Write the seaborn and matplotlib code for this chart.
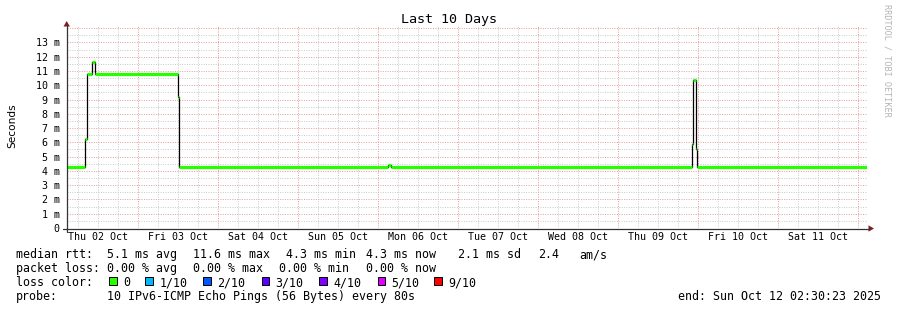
import matplotlib
matplotlib.use("Agg")
import matplotlib.pyplot as plt
import matplotlib.dates as mdates
from matplotlib.lines import Line2D
from matplotlib.patches import Rectangle, Polygon
import seaborn as sns
import pandas as pd
import numpy as np

# ---------------- data ----------------
change_times = [
    "2025-10-02 02:30:23", "2025-10-02 08:06:00", "2025-10-02 08:42:00",
    "2025-10-02 10:06:00", "2025-10-02 10:52:00", "2025-10-03 11:48:00",
    "2025-10-03 12:18:00", "2025-10-06 03:00:00", "2025-10-06 03:48:00",
    "2025-10-09 22:00:00", "2025-10-09 22:30:00", "2025-10-09 23:12:00",
    "2025-10-09 23:36:00",
]
median_ms = [4.3, 6.2, 10.8, 11.6, 10.8, 9.2, 4.3, 4.4, 4.3, 5.85, 10.35, 5.5, 4.3]
end_time = "2025-10-12 02:30:23"

day_labels = ["Thu 02 Oct", "Fri 03 Oct", "Sat 04 Oct", "Sun 05 Oct", "Mon 06 Oct",
              "Tue 07 Oct", "Wed 08 Oct", "Thu 09 Oct", "Fri 10 Oct", "Sat 11 Oct"]
day_dates = ["2025-10-02", "2025-10-03", "2025-10-04", "2025-10-05", "2025-10-06",
             "2025-10-07", "2025-10-08", "2025-10-09", "2025-10-10", "2025-10-11"]
y_ticks = list(range(0, 14))
y_labels = ["0"] + [f"{v} m" for v in range(1, 14)]

loss_labels = ["0", "1/10", "2/10", "3/10", "4/10", "5/10", "9/10"]
loss_colors = ["#26ff00", "#00b8ff", "#0059ff", "#5e00ff", "#7e00ff", "#dd00ff", "#ff0000"]

# ---------------- style ----------------
sns.set_theme(style="white")
plt.rcParams["font.family"] = ["DejaVu Sans Mono"]
plt.rcParams["lines.scale_dashes"] = False

W, H = 897, 310
fig = plt.figure(figsize=(W / 100, H / 100), dpi=100)
fig.patch.set_facecolor("white")

x0, x1 = 66.7, 866.7
yb, yt = 228.0, 26.0
ax = fig.add_axes([x0 / W, 1 - yb / H, (x1 - x0) / W, (yb - yt) / H])
ax.set_facecolor("white")

def fx(px):
    return px / W

def fy(py):
    return 1 - py / H

t_end = pd.Timestamp(end_time)
t_start = t_end - pd.Timedelta(days=10)

# ---------------- grid ----------------
minor_col = "#cccccc"
major_col = "#e6a0a0"
dot = (0, (0.72, 1.0))
g = pd.date_range(t_start.ceil("6h"), t_end, freq="6h")
for t in g:
    is_day = (t.hour == 0)
    ax.axvline(mdates.date2num(t), color=major_col if is_day else minor_col,
               lw=0.72, ls=dot, zorder=1 if is_day else 0.5)
for v in np.arange(0.5, 14.2, 0.5):
    is_major = float(v).is_integer()
    ax.axhline(v, color=major_col if is_major else minor_col, lw=0.72, ls=dot,
               zorder=1 if is_major else 0.5)

# ---------------- data lines ----------------
times = pd.to_datetime(change_times + [end_time], format="%Y-%m-%d %H:%M:%S")
vals = median_ms + [median_ms[-1]]
df = pd.DataFrame({"time": times, "median": vals})
sns.lineplot(data=df, x="time", y="median", drawstyle="steps-post", color="black",
             lw=0.9, ax=ax, estimator=None, sort=False, zorder=3)
tn = mdates.date2num(times)
ax.hlines(median_ms, tn[:-1], tn[1:], color="#26ff00", lw=2.3, zorder=4,
          capstyle="butt")

ax.set_xlim(mdates.date2num(t_start), mdates.date2num(t_end))
ax.set_ylim(0, 14.15)

noons = [mdates.date2num(pd.Timestamp(d) + pd.Timedelta(hours=12)) for d in day_dates]
ax.set_xticks(noons)
ax.set_xticklabels(day_labels)
ax.set_yticks(y_ticks)
ax.set_yticklabels(y_labels)
ax.tick_params(axis="x", length=0, pad=3.2, labelsize=7.2, colors="black")
ax.tick_params(axis="y", length=0, pad=5.0, labelsize=7.2, colors="black")
ax.set_xlabel("")
ax.set_ylabel("")
for s in ax.spines.values():
    s.set_visible(False)

# ---------------- axes lines & arrows ----------------
axis_col = "#333333"
arrow_col = "#7f1f1f"
fig.add_artist(Line2D([fx(63), fx(869)], [fy(228.5), fy(228.5)], color=axis_col, lw=0.9))
fig.add_artist(Line2D([fx(66.7), fx(66.7)], [fy(232), fy(25)], color=axis_col, lw=0.9))
fig.add_artist(Polygon([[fx(874), fy(228.5)], [fx(868.5), fy(225.3)], [fx(868.5), fy(231.7)]],
                       closed=True, color=arrow_col, lw=0))
fig.add_artist(Polygon([[fx(66.7), fy(21)], [fx(63.5), fy(26.5)], [fx(69.9), fy(26.5)]],
                       closed=True, color=arrow_col, lw=0))

# ---------------- titles ----------------
fig.text(0.5, fy(19.5), "Last 10 Days", ha="center", va="center", fontsize=9.6,
         color="black")
fig.text(fx(12), fy(126), "Seconds", ha="center", va="center", rotation=90,
         fontsize=7.6, family="DejaVu Sans", color="black")
fig.text(fx(886.5), fy(4), "RRDTOOL / TOBI OETIKER", ha="center", va="top",
         rotation=270, fontsize=6.1, color="#b4b4b4")

# ---------------- legend text ----------------
fs = 8.4
def put(x, ybase, s):
    fig.text(fx(x), fy(ybase), s, ha="left", va="baseline", fontsize=fs, color="black")

r1, r2, r3, r4 = 258.3, 272.3, 286.0, 300.3
put(16, r1, "median rtt:")
put(107.3, r1, "5.1 ms avg")
put(193.3, r1, "11.6 ms max")
put(286, r1, "4.3 ms min")
put(366, r1, "4.3 ms now")
put(458.3, r1, "2.1 ms sd")
put(537.7, r1, "2.4")
put(579.3, r1, "am/s")

put(16, r2, "packet loss:")
put(107.3, r2, "0.00 % avg")
put(193.3, r2, "0.00 % max")
put(279.3, r2, "0.00 % min")
put(365.7, r2, "0.00 % now")

put(16, r3, "loss color:")
sq_x = [109.3, 145.3, 203.3, 261.7, 319.3, 377.7, 434.3]
for xs, lab, col in zip(sq_x, loss_labels, loss_colors):
    fig.add_artist(Rectangle((fx(xs), fy(284.5)), 7.5 / W, 7.5 / H, facecolor=col,
                             edgecolor="black", lw=0.7))
    put(xs + 14, r3, lab)

put(16, r4, "probe:")
put(107.3, r4, "10 IPv6-ICMP Echo Pings (56 Bytes) every 80s")
put(678.3, r4, "end: Sun Oct 12 02:30:23 2025")

fig.savefig("out.png", dpi=100, facecolor="white")
